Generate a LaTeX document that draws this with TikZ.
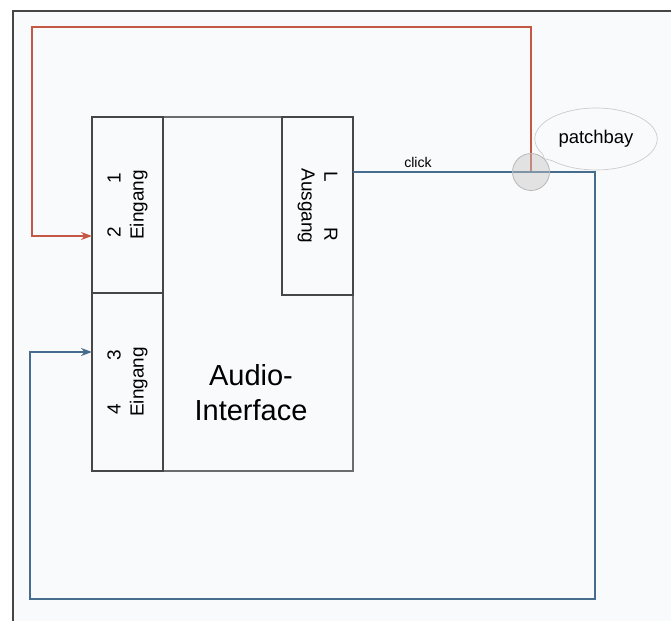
\documentclass[tikz,border=0pt]{standalone}
\usepackage{fontspec}
\setmainfont{Liberation Sans}
\usetikzlibrary{arrows.meta,positioning,shapes.geometric,shapes.callouts,calc}
\usepackage{xcolor}

\definecolor{bgpaper}{RGB}{249,250,251}
\definecolor{cablered}{RGB}{196,88,68}
\definecolor{cableblue}{RGB}{72,108,142}
\definecolor{boxline}{RGB}{70,70,70}

\begin{document}
\begin{tikzpicture}[x=0.02cm, y=-0.02cm,
    port/.style={draw=boxline, line width=1.1pt, minimum width=1.42cm, inner sep=0pt, align=center, font=\fontsize{10.8}{13}\selectfont},
    iface/.style={draw=gray!85!black, line width=0.9pt, minimum width=5.22cm, minimum height=7.08cm, inner sep=0pt},
    lbl/.style={font=\fontsize{8}{10}\selectfont, inner sep=1pt},
    cable/.style={line width=1.2pt},
    arrow/.style={-{Stealth[length=2.2mm, width=1.6mm]}}
]

\useasboundingbox (0,0) rectangle (671,621);
\fill[bgpaper] (13,11) rectangle (671,621);
\draw[boxline, line width=0.8pt] (13,621) -- (13,11) -- (671,11);

\node[iface] (audio) at (222.5,294) {};
\node[font=\fontsize{16.5}{20}\selectfont, align=center] (name) at (251,393) {Audio-\\Interface};

\node[port, minimum height=3.52cm] (in12) at (127.5,205) {};
\node[port, minimum height=3.56cm] (in34) at (127.5,382) {};
\node[port, minimum height=3.56cm] (out) at (317.5,206) {};

\node[rotate=90, align=center, font=\fontsize{10.8}{13}\selectfont] (t12) at (in12.center) {\makebox[1.3cm]{2\hfill 1}\\Eingang};
\node[rotate=90, align=center, font=\fontsize{10.8}{13}\selectfont] (t34) at (in34.center) {\makebox[1.3cm]{4\hfill 3}\\Eingang};
\node[rotate=-90, align=center, font=\fontsize{10.8}{13}\selectfont] (tout) at (out.center) {\makebox[1.4cm]{L\hfill R}\\Ausgang};

\coordinate (in2) at (92,236);
\coordinate (in3) at (92,352);
\coordinate (outlr) at (353,172);
\coordinate (rtop) at (32,27);
\coordinate (bright) at (595,599);
\coordinate (bleft) at (30,599);

\node[circle, minimum size=0.74cm, inner sep=0pt] (patch) at (531,172) {};

\draw[cable, cablered, arrow] (patch.center) |- (rtop) |- (in2);
\draw[cable, cableblue, arrow] (outlr) -| (bright) -- (bleft) |- (in3);

\node[lbl] (click) at (418,162) {click};

\node[circle, draw=gray!60, fill=gray!45, fill opacity=0.45, minimum size=0.74cm, inner sep=0pt] at (patch.center) {};
\node[ellipse callout, draw=gray!40, fill=bgpaper, minimum width=2.36cm, minimum height=1.24cm,
      callout absolute pointer={(patch.north east)}, font=\fontsize{10.5}{12}\selectfont] (pbay) at (596,139) {patchbay};
\end{tikzpicture}
\end{document}
